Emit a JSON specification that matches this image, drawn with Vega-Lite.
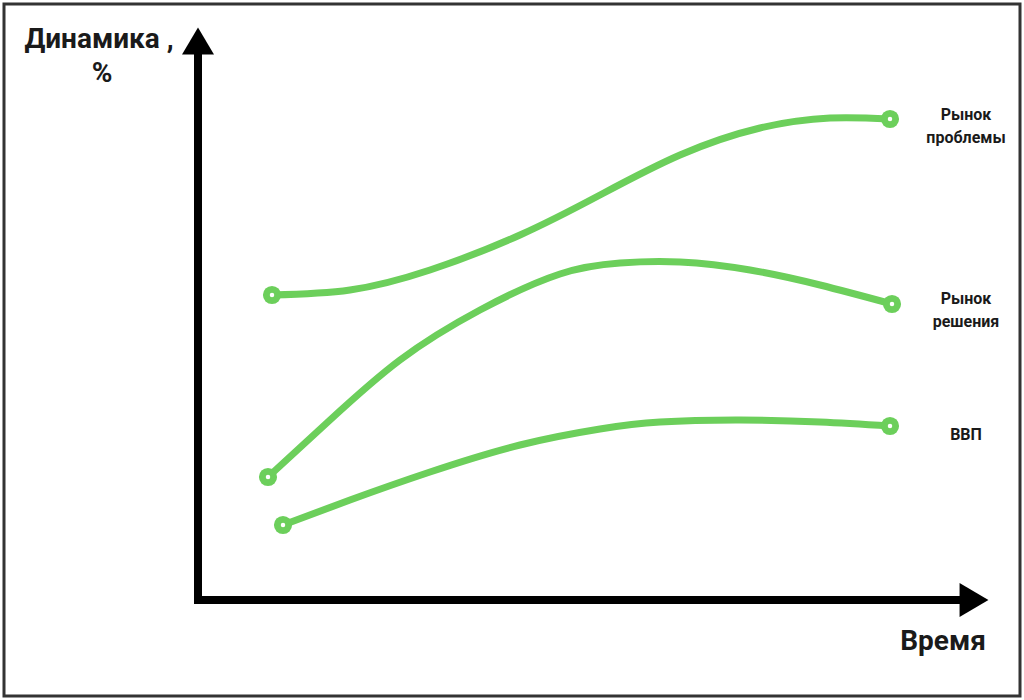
{
  "$schema": "https://vega.github.io/schema/vega-lite/v6.json",
  "width": 1024,
  "height": 700,
  "autosize": {"type": "fit", "contains": "padding"},
  "padding": 4,
  "background": "white",
  "view": {"stroke": "#333333", "strokeWidth": 3},
  "datasets": {
    "curves": [
      {"series": "Рынок проблемы", "t": 74, "v": 305},
      {"series": "Рынок проблемы", "t": 152, "v": 310},
      {"series": "Рынок проблемы", "t": 232, "v": 330},
      {"series": "Рынок проблемы", "t": 322, "v": 365},
      {"series": "Рынок проблемы", "t": 402, "v": 405},
      {"series": "Рынок проблемы", "t": 482, "v": 445},
      {"series": "Рынок проблемы", "t": 562, "v": 472},
      {"series": "Рынок проблемы", "t": 632, "v": 482},
      {"series": "Рынок проблемы", "t": 692, "v": 481},
      {"series": "Рынок решения", "t": 70, "v": 123},
      {"series": "Рынок решения", "t": 132, "v": 180},
      {"series": "Рынок решения", "t": 202, "v": 240},
      {"series": "Рынок решения", "t": 282, "v": 290},
      {"series": "Рынок решения", "t": 362, "v": 326},
      {"series": "Рынок решения", "t": 422, "v": 337},
      {"series": "Рынок решения", "t": 482, "v": 338},
      {"series": "Рынок решения", "t": 552, "v": 330},
      {"series": "Рынок решения", "t": 622, "v": 315},
      {"series": "Рынок решения", "t": 694, "v": 296},
      {"series": "ВВП", "t": 85, "v": 75},
      {"series": "ВВП", "t": 152, "v": 100},
      {"series": "ВВП", "t": 232, "v": 128},
      {"series": "ВВП", "t": 322, "v": 155},
      {"series": "ВВП", "t": 402, "v": 171},
      {"series": "ВВП", "t": 462, "v": 178},
      {"series": "ВВП", "t": 542, "v": 180},
      {"series": "ВВП", "t": 622, "v": 178},
      {"series": "ВВП", "t": 692, "v": 174}
    ],
    "ends": [
      {"series": "Рынок проблемы", "t": 74, "v": 305},
      {"series": "Рынок проблемы", "t": 692, "v": 481},
      {"series": "Рынок решения", "t": 70, "v": 123},
      {"series": "Рынок решения", "t": 694, "v": 296},
      {"series": "ВВП", "t": 85, "v": 75},
      {"series": "ВВП", "t": 692, "v": 174}
    ],
    "axes": [
      {"axis": "y", "t": 0, "v": -4, "t2": 0, "v2": 550},
      {"axis": "x", "t": -4, "v": 0, "t2": 767, "v2": 0}
    ],
    "upHead": [{"t": 0, "v": 559}],
    "rightHead": [{"t": 776, "v": 0}],
    "bigLabels": [
      {"label": "Динамика ,", "t": -99, "v": 552},
      {"label": "%", "t": -96, "v": 518},
      {"label": "Время", "t": 745, "v": -50}
    ],
    "smallLabels": [
      {"label": "Рынок\nпроблемы", "t": 768, "v": 480},
      {"label": "Рынок\nрешения", "t": 768, "v": 296},
      {"label": "ВВП", "t": 768, "v": 160}
    ]
  },
  "encoding": {
    "x": {"field": "t", "type": "quantitative", "scale": {"domain": [-194, 822], "nice": false, "zero": false}, "axis": null},
    "y": {"field": "v", "type": "quantitative", "scale": {"domain": [-96, 596], "nice": false, "zero": false}, "axis": null}
  },
  "layer": [
    {
      "data": {"name": "axes"},
      "mark": {"type": "rule", "color": "black", "strokeWidth": 8, "strokeCap": "butt"},
      "encoding": {
        "x2": {"field": "t2"},
        "y2": {"field": "v2"}
      }
    },
    {
      "data": {"name": "upHead"},
      "mark": {"type": "point", "shape": "M-1,0.85L0,-0.85L1,0.85Z", "size": 1024, "filled": true, "color": "black", "opacity": 1}
    },
    {
      "data": {"name": "rightHead"},
      "mark": {"type": "point", "shape": "M-0.85,-1L0.85,0L-0.85,1Z", "size": 1156, "filled": true, "color": "black", "opacity": 1}
    },
    {
      "data": {"name": "curves"},
      "mark": {"type": "line", "interpolate": "natural", "color": "#6ccf5b", "strokeWidth": 7, "strokeCap": "round"},
      "encoding": {"detail": {"field": "series"}}
    },
    {
      "data": {"name": "ends"},
      "mark": {"type": "point", "shape": "circle", "size": 330, "filled": true, "color": "#6ccf5b", "opacity": 1}
    },
    {
      "data": {"name": "ends"},
      "mark": {"type": "point", "shape": "circle", "size": 20, "filled": true, "color": "white", "opacity": 1}
    },
    {
      "data": {"name": "bigLabels"},
      "mark": {"type": "text", "font": "Roboto", "fontWeight": "bold", "fontSize": 28, "color": "#1a1a1a", "align": "center", "baseline": "alphabetic"},
      "encoding": {"text": {"field": "label"}}
    },
    {
      "data": {"name": "smallLabels"},
      "mark": {"type": "text", "font": "Roboto", "fontWeight": "bold", "fontSize": 16, "color": "#1a1a1a", "align": "center", "baseline": "alphabetic", "lineBreak": "\n", "lineHeight": 23},
      "encoding": {"text": {"field": "label"}}
    }
  ]
}
